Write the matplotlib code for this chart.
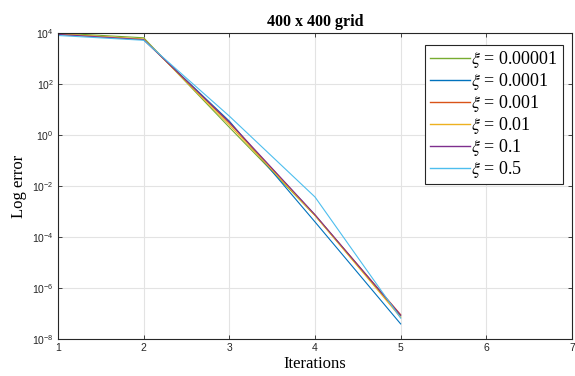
import matplotlib
matplotlib.use('Agg')
import matplotlib.pyplot as plt
from matplotlib.ticker import FixedLocator, NullLocator

# Data
iterations = [1, 2, 3, 4, 5]
xi_labels = ['0.00001', '0.0001', '0.001', '0.01', '0.1', '0.5']
err_00001 = [1.0e4, 6.5e3, 2.0, 7.0e-4, 8.0e-8]
err_0001 = [9.0e3, 5.5e3, 3.5, 3.9e-4, 3.9e-8]
err_001 = [9.0e3, 5.6e3, 3.0, 7.2e-4, 9.0e-8]
err_01 = [9.2e3, 5.8e3, 2.5, 7.0e-4, 7.0e-8]
err_1 = [8.8e3, 5.5e3, 3.2, 7.5e-4, 8.5e-8]
err_5 = [8.0e3, 5.2e3, 5.5, 3.7e-3, 6.6e-8]
series = [err_00001, err_0001, err_001, err_01, err_1, err_5]
y_ticks = [1e-8, 1e-6, 1e-4, 1e-2, 1e0, 1e2, 1e4]

# MATLAB-like colours, in the legend's order
colors = ['#77ac30', '#0072bd', '#d95319', '#edb120', '#7e2f8e', '#4dbeee']

plt.rcParams['font.family'] = ['Liberation Serif', 'DejaVu Serif']
plt.rcParams['mathtext.fontset'] = 'stix'

fig = plt.figure(figsize=(5.75, 3.76), dpi=100)
ax = fig.add_axes([0.1009, 0.0984, 0.8939, 0.8138])

for vals, lab, c in zip(series, xi_labels, colors):
    ax.plot(iterations, vals, color=c, linewidth=0.8, label=r'$\xi$ = ' + lab)

ax.set_yscale('log')
ax.set_xlim(1, 7)
ax.set_ylim(1e-8, 1e4)
ax.yaxis.set_major_locator(FixedLocator(y_ticks))
ax.yaxis.set_minor_locator(NullLocator())
ax.set_xticks(range(1, 8))

ax.grid(True, color='#e3e3e3', linewidth=0.8)
ax.set_axisbelow(True)
for sp in ax.spines.values():
    sp.set_color('#262626')
    sp.set_linewidth(0.8)
ax.tick_params(direction='in', top=True, right=True, length=3, width=0.6,
               color='#262626', labelsize=7.5, labelcolor='#262626', pad=3)
for t in ax.get_xticklabels() + ax.get_yticklabels():
    t.set_family(['Liberation Sans', 'DejaVu Sans'])

ax.set_title('400 x 400 grid', fontsize=11.5, fontweight='bold', pad=5)
ax.set_xlabel('Iterations', fontsize=12, labelpad=2)
ax.set_ylabel('Log error', fontsize=12, labelpad=4)

leg = ax.legend(loc='upper right', bbox_to_anchor=(0.982, 0.961), fontsize=13,
                frameon=True, fancybox=False, edgecolor='#262626', framealpha=1,
                handlelength=2.2, handletextpad=0.1, labelspacing=0.05,
                borderpad=0.25, borderaxespad=0)
leg.get_frame().set_linewidth(0.8)
for line in leg.get_lines():
    line.set_linewidth(1.0)

fig.savefig('out.png', dpi=100)
